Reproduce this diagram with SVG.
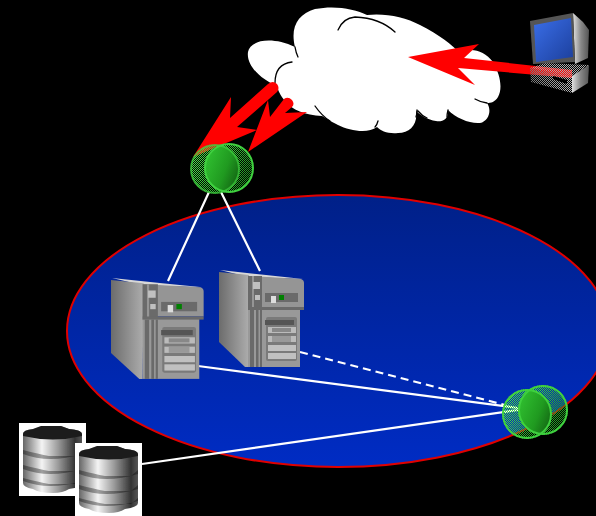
<svg xmlns="http://www.w3.org/2000/svg" width="596" height="516" viewBox="0 0 596 516">
<style>
.link{stroke:#fff;stroke-width:2.2;fill:none}
.ring{fill:none;stroke:#3fd03f;stroke-width:2}
.crease{fill:none;stroke:#000;stroke-width:1.3;stroke-linecap:round}
.arrow{fill:#f00}
.d{fill:#6a6a6a}.l{fill:#c0c0c0}.m{fill:#959595}
</style>
<defs>
<linearGradient id="sea" x1="0" y1="0" x2="0" y2="1"><stop offset="0" stop-color="#002088"/><stop offset="1" stop-color="#002cc4"/></linearGradient>
<linearGradient id="green" x1="0" y1="0.3" x2="1" y2="0.7"><stop offset="0" stop-color="#30c030"/><stop offset="0.45" stop-color="#209a20"/><stop offset="1" stop-color="#083808"/></linearGradient>
<linearGradient id="greenm" x1="0" y1="0.3" x2="1" y2="0.7"><stop offset="0" stop-color="#50e850"/><stop offset="0.5" stop-color="#38c038"/><stop offset="1" stop-color="#1c8a1c"/></linearGradient>
<linearGradient id="side"><stop offset="0" stop-color="#6c6c6c"/><stop offset="1" stop-color="#adadad"/></linearGradient>
<linearGradient id="screen" x1="0" y1="0" x2="1" y2="1"><stop offset="0" stop-color="#3a6ee8"/><stop offset="1" stop-color="#1c3f9c"/></linearGradient>
<linearGradient id="bodyg" x1="0" y1="0" x2="1" y2="0"><stop offset="0" stop-color="#777"/><stop offset="1" stop-color="#bbb"/></linearGradient>
<linearGradient id="mside"><stop offset="0" stop-color="#e0e0e0"/><stop offset="0.5" stop-color="#888"/><stop offset="1" stop-color="#555"/></linearGradient>
<linearGradient id="disk"><stop offset="0" stop-color="#666"/><stop offset="0.32" stop-color="#f4f4f4"/><stop offset="0.6" stop-color="#999"/><stop offset="0.88" stop-color="#333"/><stop offset="1" stop-color="#555"/></linearGradient>
<filter id="soft" x="-5%" y="-5%" width="110%" height="110%"><feGaussianBlur stdDeviation="0.7"/></filter>
<pattern id="chk" width="2" height="2" patternUnits="userSpaceOnUse"><rect width="1" height="1" fill="#fff"/><rect x="1" y="1" width="1" height="1" fill="#fff"/></pattern>
<mask id="mesh" maskUnits="userSpaceOnUse" x="0" y="0" width="596" height="516"><rect width="596" height="516" fill="url(#chk)"/></mask>
<clipPath id="c1"><circle cx="215" cy="169" r="24.5"/></clipPath>
<clipPath id="c2"><circle cx="527" cy="414" r="25"/></clipPath>
<g id="srv">
<polygon points="1,0 47,5 84,9 29,7" fill="#d8d8d8"/>
<polygon points="0,2 30,5 29,97 26,97 0,72" fill="url(#side)"/>
<path d="M29,6L82,9Q85,10 85,13V37H29Z" class="m"/>
<rect x="29" y="6" width="14" height="34" class="d"/>
<rect x="33" y="6" width="2" height="34" class="m"/>
<rect x="34" y="12" width="7" height="7" class="l"/><rect x="36" y="25" width="5" height="5" class="l"/>
<rect x="46" y="23" width="33" height="9" class="d"/>
<rect x="52" y="26" width="5" height="7" fill="#ddd"/><rect x="60" y="25" width="5" height="5" fill="#008000"/>
<rect x="29" y="39" width="52" height="58" fill="#999"/>
<rect x="29" y="37" width="56" height="3" class="d"/>
<rect x="31" y="40" width="4" height="57" class="d"/><rect x="37" y="40" width="2.5" height="57" class="d"/><rect x="41" y="40" width="2" height="57" class="d"/>
<rect x="47" y="47" width="31" height="44" rx="2" fill="#7a7a7a"/>
<rect x="46" y="50" width="29" height="5" fill="#555"/>
<rect x="49" y="57" width="28" height="6" fill="#bbb"/><rect x="53" y="58" width="19" height="4" fill="#888"/>
<rect x="49" y="66" width="28" height="6" fill="#bbb"/><rect x="53" y="66" width="19" height="6" fill="#999"/>
<rect x="49" y="75" width="28" height="6" class="l"/><rect x="49" y="83" width="28" height="6" class="l"/>
</g>
<g id="dbk">
<rect width="67" height="73" fill="#fff"/>
<g filter="url(#soft)">
<path d="M4,11Q4,7 14,6L22,3H42L50,6Q63,7 63,11V60Q63,64 50,66Q44,70 34,70Q20,70 14,66Q4,64 4,60Z" fill="url(#disk)"/>
<path d="M4,11Q4,7 14,6L22,3H42L50,6Q63,7 63,11V13Q34,20 4,13Z" fill="#1c1c1c"/>
<path d="M4,27Q20,31 30,33H56L63,27V31Q30,41 4,31ZM4,42Q20,46 30,48H56L63,42V46Q30,56 4,46ZM4,55Q20,59 30,61H56L63,55V58Q30,68 4,58Z" fill="#000" opacity=".35"/>
</g>
</g>
</defs>
<rect width="596" height="516" fill="#000"/>
<ellipse id="domain" cx="338" cy="331" rx="271" ry="136" fill="url(#sea)" stroke="#e00000" stroke-width="2"/>
<g id="cloud">
<path d="M277,86C262,80 246,66 248,52C250,40 272,36 295,47C290,27 298,14 315,9C335,5 355,9 367,15C385,13 405,17 420,25C440,35 452,45 460,53C470,47 484,50 493,62C500,74 503,88 498,97C495,102 491,103 487,103C492,110 489,121 480,123C470,124 456,118 448,110C449,119 443,122 436,121C428,120 420,115 416,111C418,124 410,133 398,133C388,134 381,131 377,127C368,134 350,131 338,125C330,121 326,118 322,116C305,115 292,110 285,101C280,95 278,90 277,86Z" fill="#fff"/>
<path class="crease" d="M338,30Q343,18 355,17Q380,18 395,32M295,47Q296,53 298,57M292,62Q275,64 275,83M315,106Q322,116 330,121M378,121Q377,125 375,127M417,110Q417,114 416,117M418,111Q422,116 427,118M448,110Q447,114 447,117M475,99Q480,102 487,103"/>
</g>
<g id="connectors">
<path class="link" d="M209,192L168,281M221,192L260,271M198,366L518,408M142,464L518,410"/>
<path class="link" stroke-dasharray="8 5" d="M300,352L505,405"/>
<path class="arrow" d="M408,57L479,44L464,58L572,70V78L458,68L475,85Z"/>
<path class="arrow" d="M193,157L231,97L230,118L268,84Q273,80 277,84Q280,88 277,92L237,127L257,130Z"/>
<path class="arrow" d="M248,152L268,100L270,117L284,99Q288,96 292,100Q295,104 292,107L285,113L307,112Z"/>
</g>
<g id="router-top">
<g mask="url(#mesh)"><circle cx="215" cy="169" r="24.5" fill="url(#greenm)"/><circle cx="229" cy="168" r="24.5" fill="url(#greenm)"/></g>
<circle cx="229" cy="168" r="24.5" fill="url(#green)" clip-path="url(#c1)"/>
<circle class="ring" cx="229" cy="168" r="24"/>
<circle class="ring" cx="215" cy="169" r="24" stroke-opacity=".7"/>
</g>
<g id="router-bottom">
<g mask="url(#mesh)"><circle cx="543" cy="410" r="25" fill="url(#greenm)"/><circle cx="527" cy="414" r="25" fill="url(#greenm)"/></g>
<circle cx="543" cy="410" r="25" fill="url(#green)" clip-path="url(#c2)"/>
<circle class="ring" cx="543" cy="410" r="24"/>
<circle class="ring" cx="527" cy="414" r="24"/>
</g>
<g id="server-1"><use href="#srv" transform="translate(111,278) scale(1.09,1.04)"/></g>
<g id="server-2"><use href="#srv" transform="translate(219,270)"/></g>
<g id="db-1"><use href="#dbk" transform="translate(19,423)"/></g>
<g id="db-2"><use href="#dbk" transform="translate(75,443)"/></g>
<g id="computer">
<g mask="url(#mesh)">
<polygon points="530,68 572,76 572,93 531,82" fill="url(#bodyg)"/>
<polygon points="530,68 545,63 589,65 572,76" fill="#aaa"/>
</g>
<polygon points="572,76 589,65 588,83 572,93" fill="url(#mside)"/>
<polygon points="553,76 567,80 567,84 553,79" fill="#000"/>
<polygon points="573,13 583,22 589,30 588,58 575,64" fill="url(#mside)"/>
<polygon points="530,21 573,13 575,62 533,64" fill="#555"/>
<polygon points="534,25 571,18 573,57 536,62" fill="url(#screen)"/>
</g>
</svg>
